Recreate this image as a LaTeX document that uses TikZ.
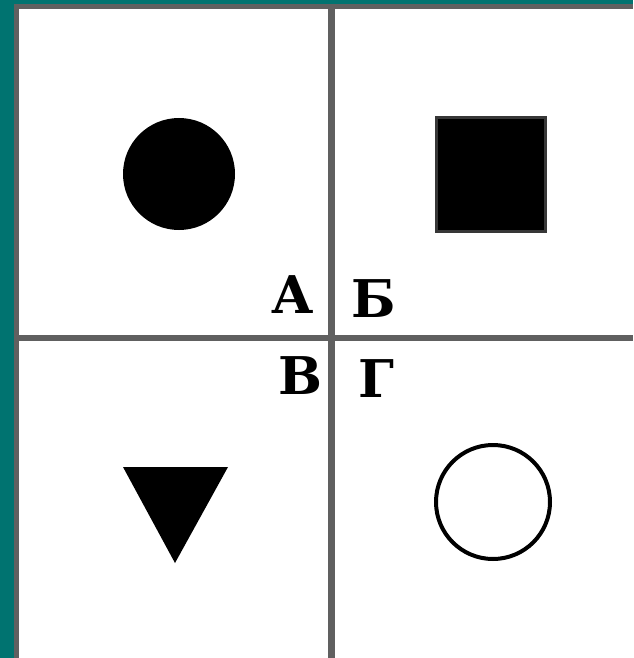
\documentclass[tikz,border=0pt]{standalone}
\usepackage{fontspec}
\setmainfont{DejaVu Serif}
\definecolor{frameteal}{RGB}{0,115,112}
\definecolor{rulegray}{RGB}{96,96,96}
\definecolor{edgegray}{RGB}{55,55,55}

\begin{document}
\begin{tikzpicture}[
  x=1pt, y=-1pt,
  rule/.style = {rulegray, line width=7pt},
  solid shape/.style = {fill=black, draw=edgegray, line width=3pt, inner sep=0pt},
  letter/.style = {inner sep=0pt, font=\fontsize{52}{52}\selectfont\bfseries}
]
\useasboundingbox (0,0) rectangle (633,658);

% Frame and background
\fill[frameteal] (0,0) rectangle (633,658);
\fill[rulegray] (14,4) rectangle (633,658);
\fill[white] (19,9) rectangle (633,658);

% Dividing lines
\coordinate (top) at (331.5,9);
\coordinate (bottom) at (331.5,658);
\coordinate (left) at (19,337.5);
\coordinate (right) at (633,337.5);
\draw[rule] (top) -- (bottom);
\draw[rule, line width=6pt] (left) -- (right);

% Shapes
\node[circle, fill=black, inner sep=0pt, minimum size=112pt] (disc) at (179,174) {};
\node[solid shape, minimum width=109pt, minimum height=114pt] (square) at (491,174.5) {};
\coordinate (triA) at (123,467);
\coordinate (triB) at (228,467);
\coordinate (triC) at (175,563);
\fill[black] (triA) -- (triB) -- (triC) -- cycle;
\node[circle, draw=black, line width=4pt, minimum size=114pt, inner sep=0pt] (ring) at (493,502) {};

% Labels
\node[letter, anchor=base east] (labA) at (314,313) {А};
\node[letter, anchor=base west] (labB) at (351,317) {Б};
\node[letter, anchor=base east] (labV) at (323,394) {В};
\node[letter, anchor=base west] (labG) at (358,397) {Г};
\end{tikzpicture}
\end{document}
